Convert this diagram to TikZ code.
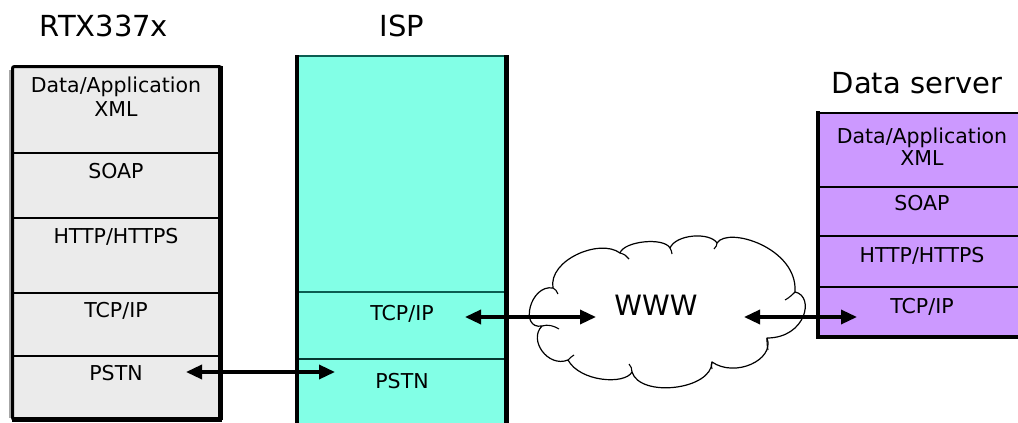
\documentclass[tikz,border=0pt]{standalone}
\usepackage{fontspec}
\setmainfont{DejaVu Sans}
\usetikzlibrary{arrows.meta}
\definecolor{rtxgray}{HTML}{EBEBEB}
\definecolor{ispcyan}{HTML}{82FFE6}
\definecolor{ispline}{HTML}{0B5E52}
\definecolor{srvpurple}{HTML}{CC99FF}

\begin{document}
\begin{tikzpicture}[x=1pt,y=-1pt,
  lbl/.style={font=\fontsize{20.5}{24}\selectfont, anchor=base, inner sep=0pt},
  ttl/.style={font=\fontsize{29}{34}\selectfont, anchor=base, inner sep=0pt},
  stackbox/.style={anchor=north west, inner sep=0pt, outer sep=0pt},
  sep/.style={line width=2.3pt},
  cloudline/.style={line width=1.2pt, line join=round},
  curl/.style={line width=1.1pt},
  tip/.tip={Triangle[length=16pt,width=14pt]},
  link/.style={line width=3.4pt, tip-tip}
]
\useasboundingbox (0,0) rectangle (1018,423);

% ---------- RTX337x protocol stack ----------
\node[stackbox, fill=rtxgray, minimum width=211pt, minimum height=354pt] (rtx) at (11,66) {};
\draw[sep] (11,153) -- (222,153);
\draw[sep] (11,218) -- (222,218);
\draw[sep] (11,293) -- (222,293);
\draw[sep] (11,356) -- (222,356);
\draw[gray!70, line width=2pt] (10,70) -- (10,418);
\draw[line width=3pt, rounded corners=2pt] (12.5,66.5) rectangle (221,419.5);
\draw[line width=4.2pt] (220.5,66) -- (220.5,420);
\draw[line width=4.2pt] (12,419.5) -- (222,419.5);

\node[ttl] (rtxttl) at (104,36) {RTX337x};
\node[lbl] (rtxapp) at (116,92) {Data/Application};
\node[lbl] (rtxxml) at (116,116) {XML};
\node[lbl] (rtxsoap) at (116,178) {SOAP};
\node[lbl] (rtxhttp) at (116,243) {HTTP/HTTPS};
\node[lbl] (rtxtcp) at (116,317) {TCP/IP};
\node[lbl] (rtxpstn) at (116,380) {PSTN};

% ---------- ISP stack (runs off the bottom) ----------
\node[stackbox, fill=ispcyan, minimum width=212pt, minimum height=380pt] (isp) at (296,55) {};
\draw[ispline, line width=2.8pt] (296,56) -- (508,56);
\draw[ispline, line width=2.4pt] (296,292) -- (508,292);
\draw[ispline!60!black, line width=2.4pt] (296,359) -- (508,359);
\draw[line width=4pt] (297,55) -- (297,430);
\draw[line width=4.2pt] (506.5,55) -- (506.5,430);

\node[ttl] (ispttl) at (402,36) {ISP};
\node[lbl] (isptcp) at (402,320) {TCP/IP};
\node[lbl] (isppstn) at (402,388) {PSTN};

% ---------- Data server stack (runs off the right) ----------
\node[stackbox, fill=srvpurple, minimum width=215pt, minimum height=226pt] (srv) at (816,112) {};
\draw[sep] (816,187) -- (1030,187);
\draw[sep] (816,236) -- (1030,236);
\draw[sep] (816,287) -- (1030,287);
\draw[line width=2.8pt] (816,113) -- (1030,113);
\draw[line width=4.4pt] (816,337) -- (1030,337);
\draw[line width=4.8pt] (818,111) -- (818,339);

\node[ttl] (srvttl) at (917,93) {Data server};
\node[lbl] (srvapp) at (922,143) {Data/Application};
\node[lbl] (srvxml) at (922,165) {XML};
\node[lbl] (srvsoap) at (922,210) {SOAP};
\node[lbl] (srvhttp) at (922,262) {HTTP/HTTPS};
\node[lbl] (srvtcp) at (922,313) {TCP/IP};

% ---------- Internet cloud ----------
% cusps between the puffs, clockwise from the lower left
\coordinate (c1) at (542,326);
\coordinate (c2) at (553,288);
\coordinate (c3) at (620,253);
\coordinate (c4) at (670,248);
\coordinate (c5) at (717,243);
\coordinate (c6) at (795,292);
\coordinate (c7) at (767,338);
\coordinate (c8) at (712,362);
\coordinate (c9) at (632,372);
\coordinate (c10) at (568,360);
\draw[cloudline, fill=white]
  (c1) .. controls (519,330) and (530,284) .. (c2)
       .. controls (548,260) and (600,238) .. (c3)
       .. controls (624,241) and (664,237) .. (c4)
       .. controls (676,234) and (710,232) .. (c5)
       .. controls (728,226) and (798,248) .. (c6)
       .. controls (815,296) and (806,338) .. (c7)
       .. controls (775,360) and (735,378) .. (c8)
       .. controls (712,390) and (640,398) .. (c9)
       .. controls (625,385) and (580,382) .. (c10)
       .. controls (548,368) and (528,340) .. (c1) -- cycle;
% small inward hooks at the cusps
\draw[curl] (c1) .. controls (548,324) and (554,326) .. (559,329);
\draw[curl] (c2) .. controls (555,289) and (557,291) .. (558,294);
\draw[curl] (c3) .. controls (624,254) and (627,256) .. (629,259);
\draw[curl] (c4) .. controls (671,250) and (672,252) .. (672,254);
\draw[curl] (c5) .. controls (717,245) and (716,247) .. (714,249);
\draw[curl] (c6) .. controls (793,294) and (789,298) .. (785,300);
\draw[curl] (c7) .. controls (767,342) and (767,346) .. (768,350);
\draw[curl] (c8) .. controls (711,364) and (711,366) .. (712,369);
\draw[curl] (c9) .. controls (632,369) and (631,366) .. (629,364);
\draw[curl] (c10) .. controls (570,358) and (572,356) .. (574,355);

\node[lbl, font=\fontsize{28}{32}\selectfont] (wwwlbl) at (656,315) {WWW};

% ---------- links ----------
\coordinate (pstnL) at (186,372);
\coordinate (pstnR) at (335,372);
\coordinate (tcpL) at (465,317);
\coordinate (tcpR) at (596,317);
\coordinate (srvL) at (744,317);
\coordinate (srvR) at (857,317);
\draw[link] (pstnL) -- (pstnR);
\draw[link] (tcpL) -- (tcpR);
\draw[link] (srvL) -- (srvR);
\end{tikzpicture}
\end{document}
